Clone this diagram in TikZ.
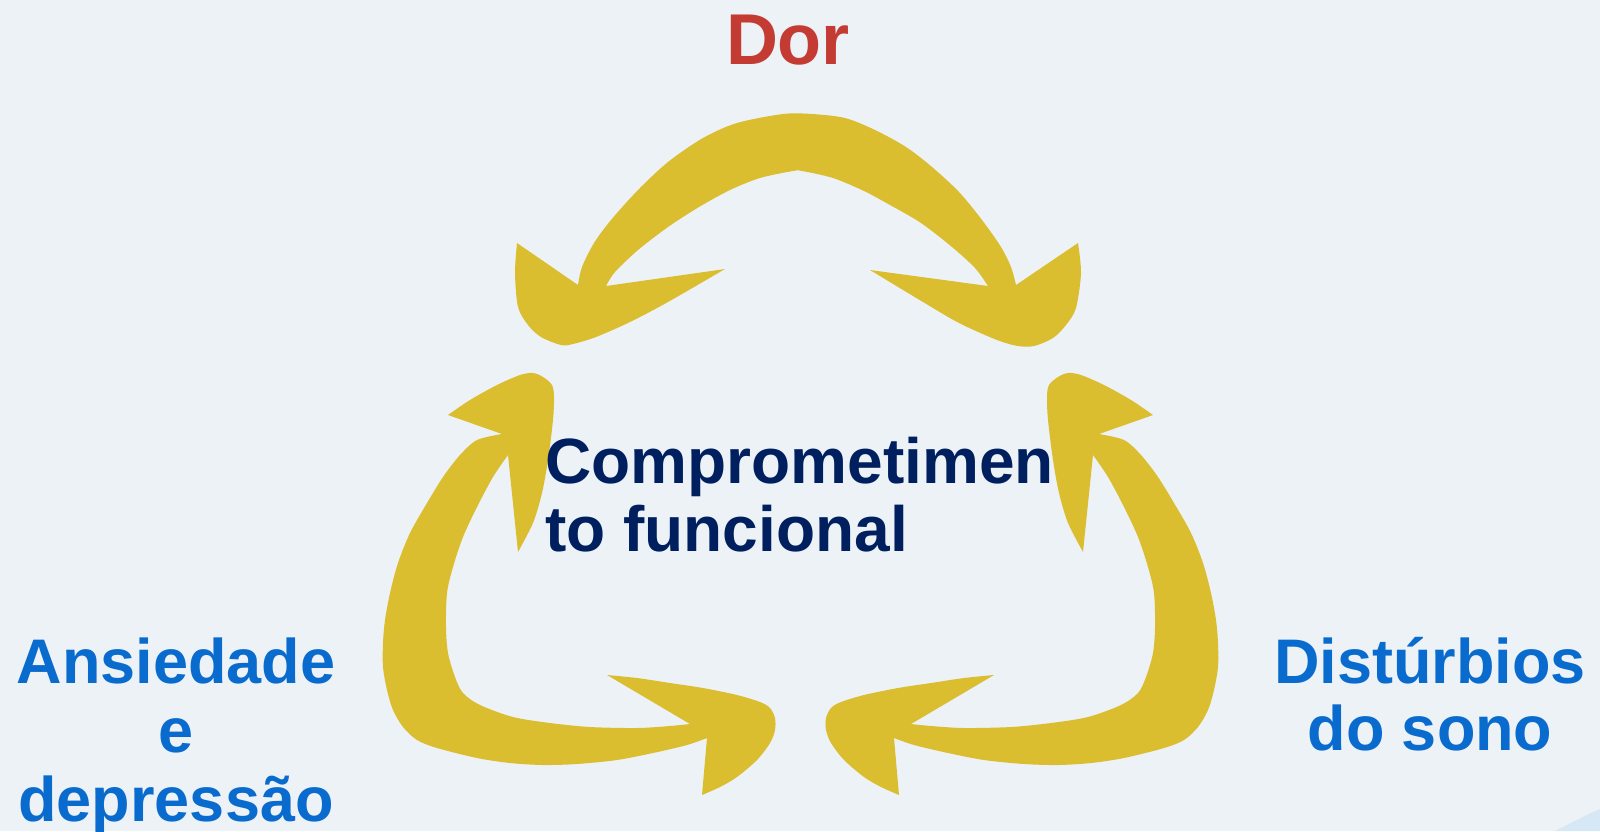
\documentclass[tikz,border=0pt]{standalone}
\usepackage{fontspec}
\setmainfont{Liberation Sans}
\usepackage{xcolor}
\usepackage{tikz}
\usetikzlibrary{positioning}

\definecolor{slidebg}{RGB}{237,242,246}
\definecolor{cornerblue}{RGB}{214,231,245}
\definecolor{arrowgold}{RGB}{219,189,48}
\definecolor{dorred}{RGB}{195,59,51}
\definecolor{factorblue}{RGB}{10,107,206}
\definecolor{corenavy}{RGB}{0,31,95}

% one bent double arrow of the cycle (lower left one, mirrored for the right)
\newcommand{\sidearrowpath}{%
  plot[smooth] coordinates {(448,415) (470,400) (497,385) (520,375) (533,373) (543,377) (552,385) (554,397) (553,420) (548,460) (542,493) (533,523) (518,552)}
  -- plot[smooth] coordinates {(508,455) (493,477) (477,507) (463,537) (453,567) (447,593) (446,627) (448,653) (455,677) (463,693) (480,705) (513,717) (550,723) (590,727) (637,728) (670,726) (690,724)}
  -- plot[smooth] coordinates {(607,675) (637,678) (670,683) (703,688) (737,695) (760,702) (770,708) (775,718) (775,730) (770,743) (757,760) (737,777) (720,787) (702,795)}
  -- plot[smooth] coordinates {(707,738) (687,745) (653,753) (617,760) (577,764) (543,765) (510,763) (477,758) (437,748) (417,740) (403,727) (393,710) (387,690) (383,667) (383,643) (385,620) (390,593) (398,563) (410,533) (427,503) (443,477) (460,455) (477,440) (502,434)}
  -- cycle}

\begin{document}
\begin{tikzpicture}[x=1pt, y=-1pt]
    % Styles
    \tikzstyle{cycle arrow} = [fill=arrowgold]
    \tikzstyle{factor} = [text=factorblue, font=\fontsize{63}{69}\selectfont\bfseries, align=center, inner sep=0pt, anchor=base]
    \tikzstyle{main factor} = [text=dorred, font=\fontsize{72}{76}\selectfont\bfseries, inner sep=0pt, anchor=base]
    \tikzstyle{core} = [text=corenavy, font=\fontsize{64}{67.5}\selectfont\bfseries, align=left, inner sep=0pt, anchor=base west]

    % Background
    \fill[slidebg] (0,0) rectangle (1600,831);
    \useasboundingbox (0,0) rectangle (1600,831);
    \fill[cornerblue] (1555,831) .. controls (1575,821) and (1590,813) .. (1600,809) -- (1600,831) -- cycle;

    % Arrows
    \fill[cycle arrow]
      plot[smooth] coordinates {(517,243) (578,285)}
      -- plot[smooth] coordinates {(578,285) (582,267) (594,243) (611,220) (638,190) (668,162) (703,138) (737,123) (783,114) (812,114) (845,118) (875,130) (906,147) (932,167) (959,192) (982,220) (1001,247) (1011,267) (1016,285)}
      -- plot[smooth] coordinates {(1078,243) (1081,273) (1076,308) (1066,325) (1053,338) (1034,346) (1018,346) (997,340) (959,323) (923,302) (870,270)}
      -- plot[smooth] coordinates {(988,286) (975,268) (952,247) (921,223) (890,205) (864,191) (833,178) (802,171) (793,171) (760,178) (730,190) (699,207) (668,227) (638,250) (615,272) (606,286)}
      -- plot[smooth] coordinates {(725,269) (668,302) (630,322) (596,337) (573,344) (561,345) (541,337) (528,325) (518,307) (515,273) (517,243)}
      -- cycle;
    \fill[cycle arrow] \sidearrowpath;
    \begin{scope}[xshift=1601pt, xscale=-1]
      \fill[cycle arrow] \sidearrowpath;
    \end{scope}

    % Nodes (base = last line)
    \node[main factor] (Dor) at (788,64) {Dor};
    \node[core] (Comp) at (545,551) {Comprometimen\\to funcional};
    \node[factor] (Ans) at (176,821) {Ansiedade\\e\\depressão};
    \node[factor, font=\fontsize{63}{67}\selectfont\bfseries] (Sono) at (1430,750) {Distúrbios\\do sono};
\end{tikzpicture}
\end{document}
